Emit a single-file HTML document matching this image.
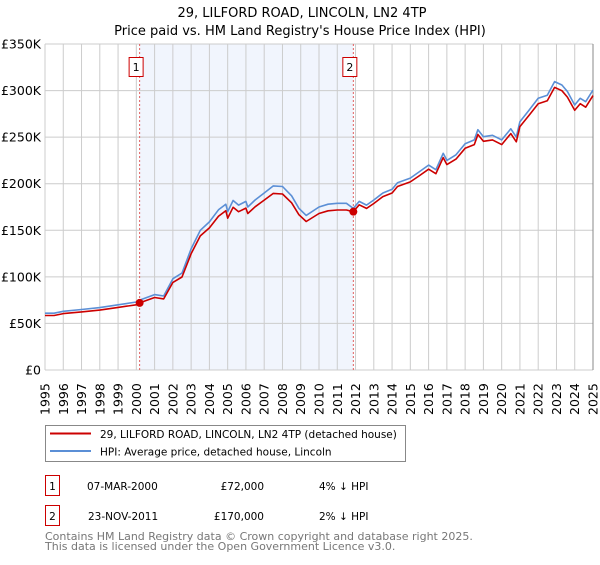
<!DOCTYPE html>
<html><head><meta charset="utf-8"><style>
body{margin:0;background:#fff;font-family:"Liberation Sans","DejaVu Sans",sans-serif;}
svg text{font-family:"DejaVu Sans","Liberation Sans",sans-serif;}
</style></head><body>
<svg id="c" width="600" height="560" xmlns="http://www.w3.org/2000/svg">
<text x="302" y="17" text-anchor="middle" font-size="13">29, LILFORD ROAD, LINCOLN, LN2 4TP</text>
<text x="300" y="35" text-anchor="middle" font-size="13">Price paid vs. HM Land Registry's House Price Index (HPI)</text>
<g id="plot"></g>
<g>
<rect x="45.5" y="425.5" width="360" height="36" fill="#fff" stroke="#888"/>
<line x1="50" y1="433.5" x2="91" y2="433.5" stroke="#cc0000" stroke-width="2"/>
<text x="100" y="438" font-size="10.5">29, LILFORD ROAD, LINCOLN, LN2 4TP (detached house)</text>
<line x1="50" y1="451" x2="91" y2="451" stroke="#5b8fd6" stroke-width="2"/>
<text x="100" y="455.5" font-size="10.5">HPI: Average price, detached house, Lincoln</text>
</g>
<g font-size="10.5">
<rect x="45.5" y="475.5" width="14" height="20" fill="#fff" stroke="#cc0000"/>
<text x="52.5" y="490" text-anchor="middle">1</text>
<text x="87" y="490">07-MAR-2000</text>
<text x="264" y="490" text-anchor="end">£72,000</text>
<text x="319" y="490">4% ↓ HPI</text>
<rect x="45.5" y="505.5" width="14" height="20" fill="#fff" stroke="#cc0000"/>
<text x="52.5" y="520" text-anchor="middle">2</text>
<text x="88" y="520">23-NOV-2011</text>
<text x="264" y="520" text-anchor="end">£170,000</text>
<text x="319" y="520">2% ↓ HPI</text>
</g>
<text x="45" y="540" font-size="11" fill="#777">Contains HM Land Registry data © Crown copyright and database right 2025.</text>
<text x="45" y="550" font-size="11" fill="#777">This data is licensed under the Open Government Licence v3.0.</text>
</svg>
<script>
const hpiYears=[1995,1995.5,1996,1997,1998,1999,2000,2000.18,2001,2001.5,2002,2002.5,2003,2003.5,2004,2004.5,2004.9,2005.0,2005.3,2005.6,2006,2006.1,2006.5,2007,2007.5,2008,2008.5,2008.9,2009.3,2010,2010.5,2011,2011.5,2011.88,2012.2,2012.6,2013,2013.5,2014,2014.3,2015,2015.5,2016,2016.4,2016.8,2017,2017.5,2018,2018.5,2018.7,2019,2019.5,2020,2020.5,2020.8,2021,2021.5,2022,2022.5,2022.9,2023.3,2023.6,2024,2024.3,2024.6,2025];
const hpiValues=[61,61,63,65,67,70,73,75,81,79.5,98,104,130,150,159,172,178,170,182,177,181,175,182.5,190,197.6,197,187,173.6,166,175,178,179,179,173.5,181,177,182.5,190,194,201,206,213,220,215,232.6,225,231,243,247,258,250.5,252,247,259,250,266.6,279,291.7,295,309.6,306,299,284.5,291.7,288,300.6];
const priceValues=[58.5,58.5,60.5,62.4,64.3,67.2,70,72,77.8,76.3,94,99.8,124.8,144,152.6,165,171,163,174.7,170,173.8,168,175.2,182.4,189.6,189,179.5,166.7,159.4,168,170.9,171.8,171.8,170,177.4,173.5,178.8,186.2,190,197,201.9,208.7,215.6,210.7,228,220.5,226.4,238,242,252.8,245.5,247,242,253.8,245,261.3,273.4,285.9,289,303.4,299.9,293,278.8,285.9,282.2,294.6];
const yTicks=[0,50,100,150,200,250,300,350];
const yTickLabels=["£0","£50K","£100K","£150K","£200K","£250K","£300K","£350K"];
const saleYears=[2000.18,2011.88];
const salePrices=[72,170];
const saleLabels=["1","2"];
const X0=45,X1=593,Y0=370,Y1=44;
const x=y=>X0+(y-1995)/30*(X1-X0);
const yv=v=>Y0-v/350*(Y0-Y1);
const NS="http://www.w3.org/2000/svg";
const g=document.getElementById('plot');
function mk(t,a,p){const e=document.createElementNS(NS,t);for(const k in a)e.setAttribute(k,a[k]);(p||g).appendChild(e);return e;}
const sh=mk('rect',{x:x(saleYears[0]),y:Y1,width:x(saleYears[1])-x(saleYears[0]),height:Y0-Y1,fill:'#eef3fc',opacity:0.8});


for(let yr=1995;yr<=2025;yr++){
  const l=mk('line',{x1:x(yr),x2:x(yr),y1:Y1,y2:Y0,stroke:'#cccccc','stroke-width':1});
  
  
  const t=mk('text',{transform:`translate(${x(yr)+4.5},${Y0+45}) rotate(-90)`,'font-size':12.5});
  t.textContent=yr;
  
  
}
yTicks.forEach((v,i)=>{
  const l=mk('line',{x1:X0,x2:X1,y1:yv(v),y2:yv(v),stroke:'#cccccc','stroke-width':1});
  
  
  const t=mk('text',{x:X0-4,y:yv(v)+4.5,'text-anchor':'end','font-size':12.5});
  t.textContent=yTickLabels[i];
  
  
});
const ax=mk('line',{x1:X1,x2:X1,y1:Y1,y2:Y0,stroke:'#888','stroke-width':1});


saleYears.forEach((s,i)=>{
  const l=mk('line',{x1:x(s),x2:x(s),y1:Y1,y2:Y0,stroke:'#e06060','stroke-dasharray':'2,2','stroke-width':1});
  
  
  const r=mk('rect',{x:x(s)-10.5,y:57.5,width:14,height:19,fill:'#fff',stroke:'#cc0000'});
  
  
  const t=mk('text',{x:x(s)-3.5,y:71,'text-anchor':'middle','font-size':11});
  t.textContent=saleLabels[i];
  
  
});
function path(vals,col,name){
  const d=hpiYears.map((yr,i)=>(i?'L':'M')+x(yr).toFixed(1)+','+yv(vals[i]).toFixed(1)).join('');
  const p=mk('path',{d,fill:'none',stroke:col,'stroke-width':1.6,'stroke-linejoin':'round'});
  
  
}
path(hpiValues,'#5b8fd6','hpi-line');
path(priceValues,'#cc0000','price-paid-line');
saleYears.forEach((s,i)=>{
  const c=mk('circle',{cx:x(s),cy:yv(salePrices[i]),r:4,fill:'#cc0000'});
  
  
});
</script>
</body></html>
